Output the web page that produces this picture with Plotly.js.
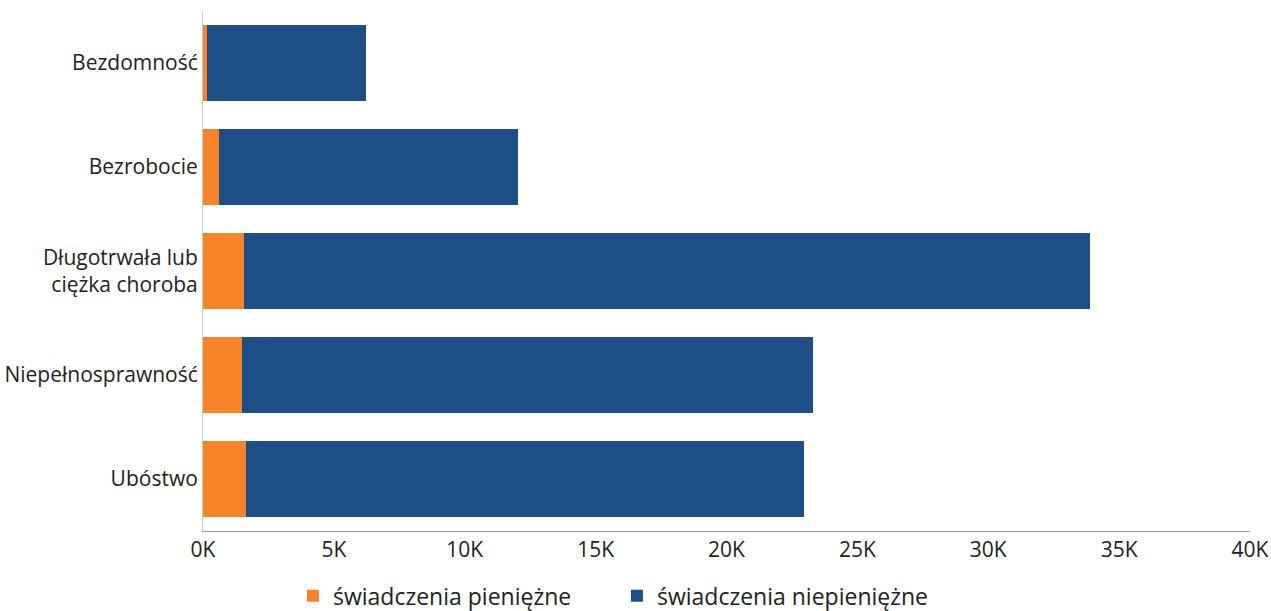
<!DOCTYPE html>
<html><head><meta charset="utf-8">
<script src="https://cdn.plot.ly/plotly-3.0.1.min.js"></script>
<style>html,body{margin:0;padding:0;background:#fff}#chart{width:1271px;height:611px}</style>
</head><body><div id="chart"></div>
<script>
const categories = ["Bezdomność", "Bezrobocie", "Długotrwała lub<br>ciężka choroba", "Niepełnosprawność", "Ubóstwo"];
const cashBenefits = [150, 600, 1550, 1500, 1650];
const nonCashBenefits = [6080, 11430, 32350, 21800, 21300];
const seriesNames = ["świadczenia pieniężne", "świadczenia niepieniężne"];
const xTickVals = [0, 5000, 10000, 15000, 20000, 25000, 30000, 35000, 40000];
const xTickText = ["0K", "5K", "10K", "15K", "20K", "25K", "30K", "35K", "40K"];

const traces = [
  {type:'bar', orientation:'h', name:seriesNames[0], y:categories, x:cashBenefits,
   marker:{color:'#F5842A'}, hoverinfo:'x+name'},
  {type:'bar', orientation:'h', name:seriesNames[1], y:categories, x:nonCashBenefits,
   marker:{color:'#1D4F86'}, hoverinfo:'x+name'}
];
const layout = {
  width:1271, height:611, barmode:'stack', bargap:0.26,
  margin:{l:203, r:21, t:11, b:80, autoexpand:false},
  paper_bgcolor:'#fff', plot_bgcolor:'#fff',
  font:{family:'Open Sans, sans-serif', size:21, color:'#222'},
  xaxis:{range:[0,40000], tickvals:xTickVals, ticktext:xTickText, showgrid:false, zeroline:false,
    showline:true, linecolor:'#999', linewidth:1, ticks:'', tickfont:{size:21, color:'#222'}},
  yaxis:{autorange:'reversed', showgrid:false, zeroline:false, showline:true, linecolor:'#ccc',
    linewidth:1, ticks:'', ticklabelstandoff:0, tickfont:{size:21, color:'#222'}},
  showlegend:true,
  legend:{orientation:'h', xref:'container', x:0.4854, xanchor:'center',
    yref:'container', y:0.025, yanchor:'middle', entrywidth:279, entrywidthmode:'pixels',
    font:{size:23, color:'#222'}, traceorder:'normal', itemwidth:30}
};
Plotly.newPlot('chart', traces, layout, {displayModeBar:false});
</script></body></html>
